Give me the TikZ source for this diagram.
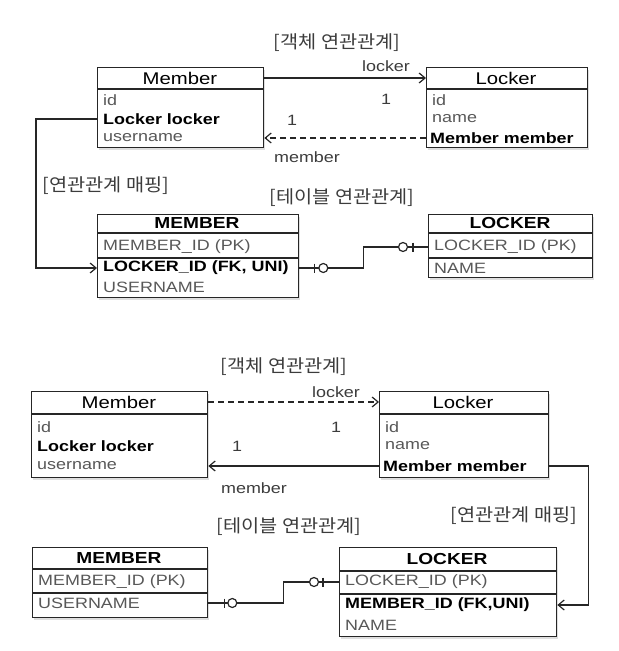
\documentclass[tikz,border=0pt]{standalone}
\usepackage{fontspec}
\setmainfont{Liberation Sans}[FakeStretch=1.2]
\newfontfamily\kr{Noto Sans CJK KR}[FakeStretch=1.1]
\usetikzlibrary{arrows.meta,shadows,positioning}
\definecolor{rowgray}{HTML}{585858}
\definecolor{lblgray}{HTML}{3C3C3C}
\begin{document}
\begin{tikzpicture}[x=1bp,y=-1bp,
  box/.style={draw=black!85, line width=1.3bp, fill=white, anchor=north west, inner sep=0pt,
    drop shadow={shadow xshift=1.5bp, shadow yshift=-2bp, opacity=0.25}},
  head/.style={inner sep=0pt, font=\fontsize{17}{19}\selectfont},
  headb/.style={inner sep=0pt, font=\fontsize{16}{18}\selectfont\bfseries},
  row/.style={anchor=west, inner sep=0pt, text=rowgray, font=\fontsize{15}{18}\selectfont},
  rowb/.style={anchor=west, inner sep=0pt, font=\fontsize{15}{18}\selectfont\bfseries},
  lbl/.style={inner sep=0pt, text=lblgray, font=\fontsize{15}{18}\selectfont},
  krlbl/.style={inner sep=0pt, text=lblgray, font=\kr\fontsize{18}{21}\selectfont},
  conn/.style={line width=1.2bp, draw=black!85},
  tip/.style={-{Straight Barb[length=6bp,width=10bp,line width=1.2bp]}},
  sep/.style={line width=1.3bp, draw=black!85}]
\useasboundingbox (0,0) rectangle (619,651);

% top: object association
\node[krlbl] (objA) at (337,43) {[객체 연관관계]};
\node[box, minimum width=166bp, minimum height=80bp] (memA) at (97,67) {};
\draw[sep] (memA.north west) ++(0,22) -- ++(166,0);
\node[head] (memAh) at (180,78) {Member};
\node[row] (memAid) at (103,100) {id};
\node[rowb] (memAlk) at (103,119) {Locker locker};
\node[row] (memAun) at (103,138) {username};

\node[box, minimum width=161bp, minimum height=80bp] (lockA) at (426,67) {};
\draw[sep] (lockA.north west) ++(0,22) -- ++(161,0);
\node[head] (lockAh) at (506,78) {Locker};
\node[row] (lockAid) at (432,100) {id};
\node[row] (lockAnm) at (432,119) {name};
\node[rowb] (lockAmm) at (430,138) {Member member};

\draw[conn, tip] (memAh -| memA.east) -- (memAh -| lockA.west);
\draw[conn, tip, dash pattern=on 6bp off 4bp] (lockAmm -| lockA.west) -- (lockAmm -| memA.east);
\node[lbl] (lkA) at (386,66) {locker};
\node[lbl] (oneA) at (386,99) {1};
\node[lbl] (twoA) at (292,120) {1};
\node[lbl] (mbA) at (307,157) {member};

% top: mapping
\node[krlbl] (mapA) at (106,186) {[연관관계 매핑]};
\node[krlbl] (tblA) at (342,198) {[테이블 연관관계]};
\node[box, minimum width=201bp, minimum height=83bp] (tabA) at (97,214) {};
\draw[sep] (tabA.north west) ++(0,19) -- ++(201,0);
\draw[sep] (tabA.north west) ++(0,44) -- ++(201,0);
\node[headb] (tabAh) at (197,223) {MEMBER};
\node[row] (tabAid) at (103,247) {MEMBER\_ID (PK)};
\node[rowb] (tabAfk) at (103,268) {LOCKER\_ID (FK, UNI)};
\node[row] (tabAun) at (103,287) {USERNAME};

\node[box, minimum width=164bp, minimum height=63bp] (tabB) at (428,214) {};
\draw[sep] (tabB.north west) ++(0,19) -- ++(164,0);
\draw[sep] (tabB.north west) ++(0,44) -- ++(164,0);
\node[headb] (tabBh) at (510,223) {LOCKER};
\node[row] (tabBpk) at (434,247) {LOCKER\_ID (PK)};
\node[row] (tabBnm) at (434,268) {NAME};

\draw[conn, tip] (memAlk -| memA.west) -- ++(-61,0) |- (tabAfk -| tabA.west);
\draw[conn] (tabAfk -| tabA.east) -- ++(64,0) |- (tabBpk -| tabB.west);
\draw[conn, shift={(tabAfk -| tabA.east)}] (15,-4.5) -- (15,4.5);
\draw[conn, fill=white, shift={(tabAfk -| tabA.east)}] (24,0) circle (4.5bp);
\draw[conn, shift={(tabBpk -| tabB.west)}] (-15,-4.5) -- (-15,4.5);
\draw[conn, fill=white, shift={(tabBpk -| tabB.west)}] (-25,0) circle (4.5bp);

% bottom: object association
\node[krlbl] (objB) at (284,367) {[객체 연관관계]};
\node[box, minimum width=176bp, minimum height=86bp] (memB) at (31,391) {};
\draw[sep] (memB.north west) ++(0,23) -- ++(176,0);
\node[head] (memBh) at (119,402) {Member};
\node[row] (memBid) at (37,427) {id};
\node[rowb] (memBlk) at (37,446) {Locker locker};
\node[row] (memBun) at (37,466) {username};

\node[box, minimum width=169bp, minimum height=86bp] (lockB) at (379,391) {};
\draw[sep] (lockB.north west) ++(0,23) -- ++(169,0);
\node[head] (lockBh) at (463,402) {Locker};
\node[row] (lockBid) at (385,427) {id};
\node[row] (lockBnm) at (385,446) {name};
\node[rowb] (lockBmm) at (383,466) {Member member};

\draw[conn, tip, dash pattern=on 6bp off 4bp] (memBh -| memB.east) -- (memBh -| lockB.west);
\draw[conn, tip] (lockBmm -| lockB.west) -- (lockBmm -| memB.east);
\node[lbl] (lkB) at (336,392) {locker};
\node[lbl] (oneB) at (336,427) {1};
\node[lbl] (twoB) at (237,446) {1};
\node[lbl] (mbB) at (254,488) {member};

% bottom: mapping
\node[krlbl] (mapB) at (514,516) {[연관관계 매핑]};
\node[krlbl] (tblB) at (289,527) {[테이블 연관관계]};
\node[box, minimum width=175bp, minimum height=70bp] (tabC) at (32,547) {};
\draw[sep] (tabC.north west) ++(0,22) -- ++(175,0);
\draw[sep] (tabC.north west) ++(0,46) -- ++(175,0);
\node[headb] (tabCh) at (119,558) {MEMBER};
\node[row] (tabCid) at (38,582) {MEMBER\_ID (PK)};
\node[row] (tabCun) at (38,603) {USERNAME};

\node[box, minimum width=217bp, minimum height=89bp] (tabD) at (339,547) {};
\draw[sep] (tabD.north west) ++(0,24) -- ++(217,0);
\draw[sep] (tabD.north west) ++(0,47) -- ++(217,0);
\node[headb] (tabDh) at (447,559) {LOCKER};
\node[row] (tabDpk) at (345,582) {LOCKER\_ID (PK)};
\node[rowb] (tabDfk) at (345,605) {MEMBER\_ID (FK,UNI)};
\node[row] (tabDnm) at (345,625) {NAME};

\draw[conn, tip] (lockBmm -| lockB.east) -- ++(39,0) |- (tabDfk -| tabD.east);
\draw[conn] (tabCun -| tabC.east) -- ++(75,0) |- (tabDpk -| tabD.west);
\draw[conn, shift={(tabCun -| tabC.east)}] (16,-4.5) -- (16,4.5);
\draw[conn, fill=white, shift={(tabCun -| tabC.east)}] (24,0) circle (4.5bp);
\draw[conn, shift={(tabDpk -| tabD.west)}] (-16,-4.5) -- (-16,4.5);
\draw[conn, fill=white, shift={(tabDpk -| tabD.west)}] (-25,0) circle (4.5bp);
\end{tikzpicture}
\end{document}
